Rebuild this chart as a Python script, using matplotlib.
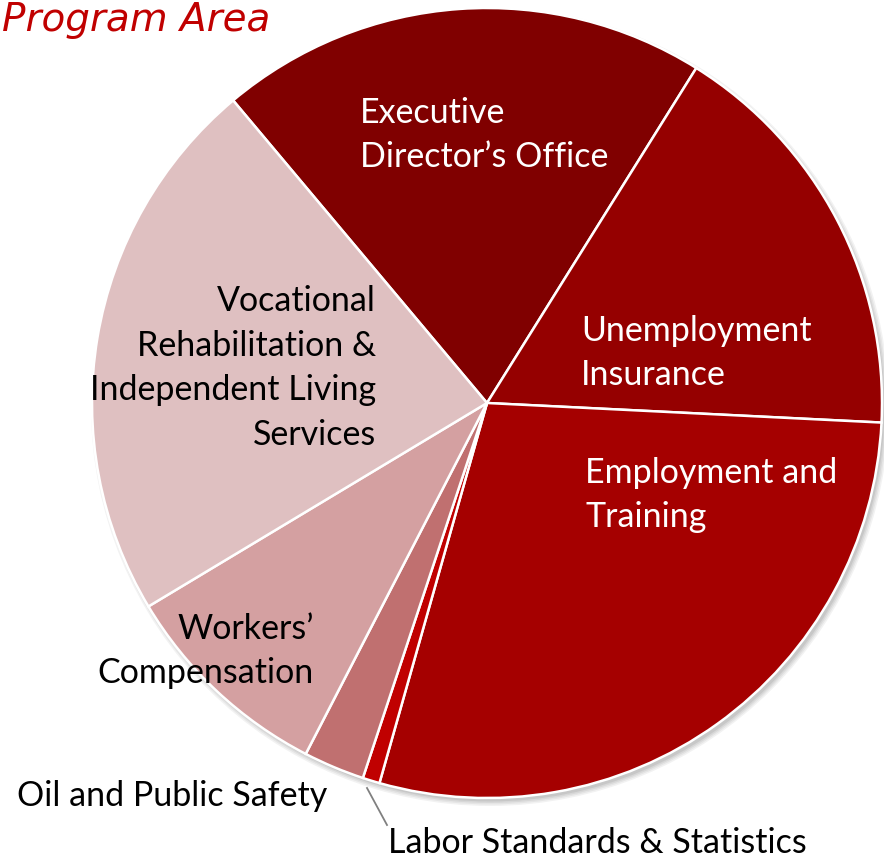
import matplotlib
matplotlib.use("Agg")
import matplotlib.pyplot as plt
from matplotlib.patches import Circle

# Budget share by program area (percent)
categories = [
    "Executive\nDirector\u2019s Office",
    "Unemployment\nInsurance",
    "Employment and\nTraining",
    "Labor Standards & Statistics",
    "Oil and Public Safety",
    "Workers\u2019\nCompensation",
    "Vocational\nRehabilitation &\nIndependent Living\nServices",
]
shares = [20.0, 16.9, 28.6, 0.7, 2.5, 8.8, 22.5]
colors = ["#800000", "#950000", "#A50000", "#C00000", "#C07070", "#D4A0A1", "#DFC0C1"]

W, H = 884, 860
fig = plt.figure(figsize=(W / 100, H / 100), dpi=100)
ax = fig.add_axes([0, 0, 1, 1])

cx, cy, r = 487, H - 403, 395

# soft drop shadow beneath the pie
for i, a in enumerate([0.05, 0.05, 0.06, 0.07]):
    ax.add_patch(Circle((cx + 3, cy - 4), r + 4 - i * 1.5, color="black", alpha=a, lw=0, zorder=0))

ax.pie(
    shares,
    colors=colors,
    startangle=130,
    counterclock=False,
    center=(cx, cy),
    radius=r,
    wedgeprops=dict(edgecolor="white", linewidth=1.8),
    frame=True,
)
ax.set_xlim(0, W)
ax.set_ylim(0, H)
ax.set_aspect("equal")
ax.axis("off")

font = "Lato"
fs = 24.5
ls = 1.48

def px(x, y):
    return x, H - y

ax.text(*px(360, 135), categories[0], color="white", fontsize=fs, family=font,
        ha="left", va="center", linespacing=ls)
ax.text(*px(581, 353), categories[1], color="white", fontsize=fs, family=font,
        ha="left", va="center", linespacing=ls)
ax.text(*px(585, 495), categories[2], color="white", fontsize=fs, family=font,
        ha="left", va="center", linespacing=ls)
ax.text(*px(376, 368), categories[6], color="black", fontsize=fs, family=font,
        ha="right", va="center", linespacing=ls, multialignment="right")
ax.text(*px(314, 651), categories[5], color="black", fontsize=fs, family=font,
        ha="right", va="center", linespacing=ls, multialignment="right")
ax.text(*px(17, 796), categories[4], color="black", fontsize=fs, family=font,
        ha="left", va="center")
ax.text(*px(388, 843), categories[3], color="black", fontsize=fs, family=font,
        ha="left", va="center")

# leader line for the thin slice
ax.plot([367, 387], [H - 788, H - 825], color="#808080", lw=1.3)

ax.text(*px(2, 31), "Program Area", color="#C00000", fontsize=28,
        family="DejaVu Sans", style="italic", ha="left", va="baseline")

fig.savefig("out.png", dpi=100)
